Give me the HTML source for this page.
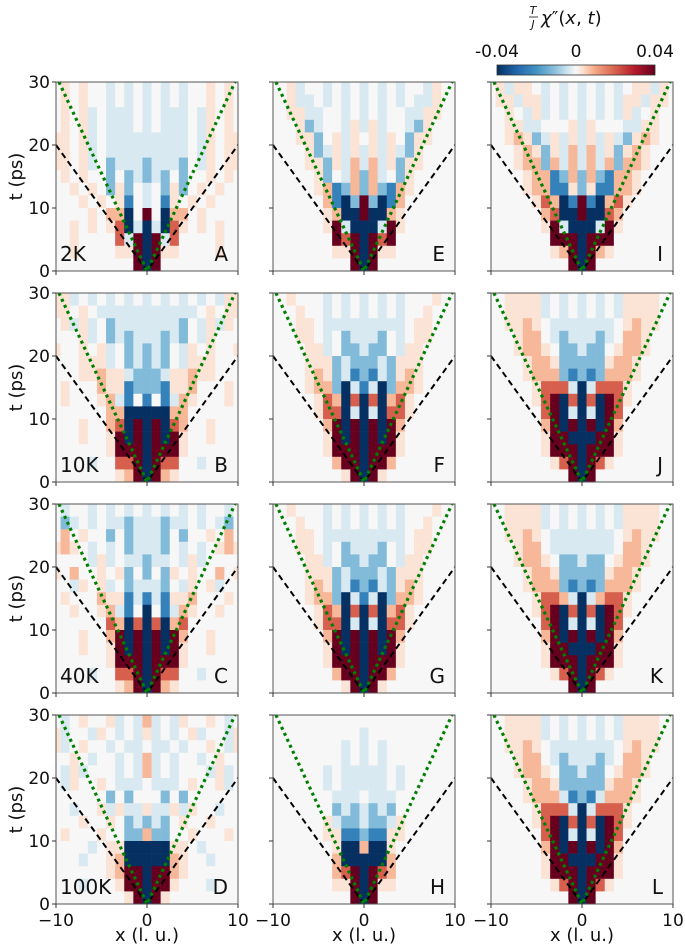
<!DOCTYPE html>
<html><head><meta charset="utf-8"><style>
html,body{margin:0;padding:0;background:#fff;}
svg{display:block;font-family:"DejaVu Sans","Liberation Sans",sans-serif;}
</style></head><body>
<svg id="fig" width="685" height="951" viewBox="0 0 685 951" xmlns="http://www.w3.org/2000/svg"></svg>
<script>
// Heatmap codes: rows top (t=28-30) to bottom (t=0-2), columns x=0..10 (mirrored). 0=-0.04 .. 4=0 .. 8=+0.04
const panelA=["34343445454","34343445454","34333435454","34333435454","33333435455","33333435455","23332435455","23242445454","34252454544","34154545444","84066454444","03075454544","08374444544","08554444544","08444444444"];
const panelE=["34343443544","34343433544","34344335544","35344325444","45354255444","35353254444","36352554444","26342544444","26216544444","82016444444","80065444444","00385444444","08784444444","08554444444","08444444444"];
const panelI=["34343455354","34343553554","34343534544","35444335544","35353256544","36352565444","36362665444","26216654444","25116654444","81067544444","80076444444","00385444444","08884444444","08654444444","08444444444"];
const panelB=["34343434355","33333345455","33332435354","33232435444","23243545445","23243555444","22355655444","22155644454","14136544454","00066444444","08076445444","08085445444","08885444444","08774434444","08654444444"];
const panelF=["34343444544","34343445444","33333455444","33243455444","32243554444","22325554444","21325654444","13026654444","07067544444","03077544444","08086444444","08085444444","08885444444","08864444444","08544444444"];
const panelJ=["34343555544","34343555544","33334565544","33234665444","32245665444","22256654444","21266654444","03777544444","07087544444","03087444444","08086444444","00885444444","08885444444","08754444444","08444444444"];
const panelC=["34343434434","33233434324","33242445464","33243434565","23343534444","24254544645","33243545344","13155644454","04136544544","07067444444","08086445444","08085445444","08885444444","08774434444","08654444444"];
const panelG=["34343444544","34343445444","33333455444","33243455444","32243554444","22325554444","21325654444","13026654444","07067544444","03077544444","08086444444","08085444444","08885444444","08864444444","08544444444"];
const panelK=["34343555544","34343555544","33334565544","33334665444","32245665444","22256654444","21266654444","03677544444","07087544444","03087444444","08086444444","00885444444","08885444444","08754444444","08444444444"];
const panelD=["63435445434","53434534435","43343445435","63434434544","63434443534","43334544534","44242444444","53353544344","23245445444","62244544454","00055434444","00065443444","08865444444","08854443444","08544444444"];
const panelH=["44444444444","34444444444","34344444444","34344444444","33343444444","33343444444","43334444444","32324444444","32235444444","21155444444","60054444444","00064444444","08764444444","08554444444","08444444444"];
const panelL=["34343555544","34343555544","33334565544","33234665444","32245665444","22256654444","21366654444","03777544444","07087544444","03087444444","08086444444","00885444444","08885444444","08754444444","08444444444"];
const panelLetters=["A","E","I","B","F","J","C","G","K","D","H","L"];
const tempLabels=["2K","10K","40K","100K"];
const yTicks=[0,10,20,30];
const xTicks=[-10,0,10];
const cbTicks=[-0.04,0,0.04];
const dashedSlope=2;   // t = 2|x|
const dottedSlope=3.1; // t = 3.1|x|
const panels=[[panelA,panelE,panelI],[panelB,panelF,panelJ],[panelC,panelG,panelK],[panelD,panelH,panelL]];

const NS="http://www.w3.org/2000/svg";
const svg=document.getElementById('fig');
const colX=[56,273,491], rowY=[82,293,504,715], PW=182, PH=189;
const codeVal=[-1,-0.6,-0.3,-0.08,0,0.07,0.2,0.5,1];
const stops=[[-1,[5,48,97]],[-0.75,[33,102,172]],[-0.5,[67,147,195]],[-0.25,[146,197,222]],[-0.1,[209,229,240]],[0,[247,247,247]],[0.1,[253,219,199]],[0.25,[244,165,130]],[0.5,[214,96,77]],[0.75,[178,24,43]],[1,[103,0,31]]];
function cmap(v){v=Math.max(-1,Math.min(1,v));for(let i=0;i<stops.length-1;i++){const a=stops[i],b=stops[i+1];if(v<=b[0]){const f=(v-a[0])/(b[0]-a[0]);const c=a[1].map((x,k)=>Math.round(x+(b[1][k]-x)*f));return `rgb(${c[0]},${c[1]},${c[2]})`;}}return 'rgb(103,0,31)';}
function el(tag,attrs,parent){const e=document.createElementNS(NS,tag);for(const k in attrs)e.setAttribute(k,attrs[k]);(parent||svg).appendChild(e);return e;}

const defs=el('defs',{});
panels.forEach((row,r)=>row.forEach((data,c)=>{
  const x0=colX[c], y0=rowY[r];
  const sx=x=>x0+(x+10)/20*PW, sy=t=>y0+PH-(t/30)*PH;
  const cp=el('clipPath',{id:'cp'+r+c},defs);
  el('rect',{x:x0,y:y0,width:PW,height:PH},cp);
  const g=el('g',{'clip-path':`url(#cp${r}${c})`});
  
  
  const nRows=data.length, dt=30/nRows;
  data.forEach((s,ri)=>{
    const tTop=30-ri*dt;
    for(let xi=-10;xi<=10;xi++){
      const code=+s[Math.abs(xi)];
      const rc=el('rect',{x:sx(xi-0.5),y:sy(tTop),width:sx(xi+0.5)-sx(xi-0.5)+0.3,height:sy(tTop-dt)-sy(tTop)+0.3,fill:cmap(codeVal[code])},g);
      
      
    }
  });
  const dash=el('polyline',{points:`${sx(-10)},${sy(10*dashedSlope)} ${sx(0)},${sy(0)} ${sx(10)},${sy(10*dashedSlope)}`,fill:'none',stroke:'#000','stroke-width':2,'stroke-dasharray':'6 4'},g);
  
  
  const xe=30/dottedSlope;
  const dot=el('polyline',{points:`${sx(-xe)},${sy(30)} ${sx(0)},${sy(0)} ${sx(xe)},${sy(30)}`,fill:'none',stroke:'#008000','stroke-width':3.2,'stroke-dasharray':'3 3.6'},g);
  
  
  const fr=el('rect',{x:x0,y:y0,width:PW,height:PH,fill:'none',stroke:'#555','stroke-width':1});
  
  
  yTicks.forEach(t=>{el('line',{x1:x0-4,x2:x0,y1:sy(t),y2:sy(t),stroke:'#333'});
    if(c===0){const tl=el('text',{x:x0-6,y:sy(t)+6,'text-anchor':'end','font-size':17,fill:'#111'});tl.textContent=t;
      
      }});
  xTicks.forEach(x=>{el('line',{x1:sx(x),x2:sx(x),y1:y0+PH,y2:y0+PH+4,stroke:'#333'});
    if(r===3){const tl=el('text',{x:sx(x),y:y0+PH+22,'text-anchor':'middle','font-size':17,fill:'#111'});tl.textContent=(x<0?'\u2212'+(-x):x);
      
      }});
  const lt=el('text',{x:x0+PW-10,y:y0+PH-10,'text-anchor':'end','font-size':20,fill:'#111'});lt.textContent=panelLetters[r*3+c];
  
  
  if(c===0){const tt=el('text',{x:x0+4,y:y0+PH-10,'font-size':20,fill:'#111'});tt.textContent=tempLabels[r];
    
    
    const yl=el('text',{x:0,y:0,transform:`translate(22,${y0+PH/2}) rotate(-90)`,'text-anchor':'middle','font-size':18,fill:'#111'});yl.textContent='t (ps)';
    
    }
  if(r===3){const xl=el('text',{x:x0+PW/2,y:941,'text-anchor':'middle','font-size':18,fill:'#111'});xl.textContent='x (l. u.)';
    
    }
}));

// colorbar
const cbx0=497,cbx1=655,cby=65,cbh=10;
const grad=el('linearGradient',{id:'cbg',x1:0,x2:1,y1:0,y2:0},defs);
stops.forEach(s=>el('stop',{offset:(s[0]+1)/2,'stop-color':`rgb(${s[1].join(',')})`},grad));
const cb=el('rect',{x:cbx0,y:cby,width:cbx1-cbx0,height:cbh,fill:'url(#cbg)',stroke:'#333','stroke-width':0.8});


cbTicks.forEach(v=>{const x=cbx0+(v+0.04)/0.08*(cbx1-cbx0);
  const t=el('text',{x:x,y:57,'text-anchor':'middle','font-size':17,fill:'#111'});t.textContent=(v===0?'0':v.toFixed(2));
  
  });
const ct=el('g',{});


const tT=el('text',{x:533,y:14,'font-size':11,'font-style':'italic',fill:'#111','text-anchor':'middle'},ct);tT.textContent='T';
el('line',{x1:529,x2:538,y1:17,y2:17,stroke:'#111','stroke-width':0.8},ct);
const tJ=el('text',{x:533,y:28,'font-size':11,'font-style':'italic',fill:'#111','text-anchor':'middle'},ct);tJ.textContent='J';
const tc=el('text',{x:541,y:24,'font-size':18,fill:'#111'},ct);tc.innerHTML='<tspan font-style="italic">χ</tspan>″(<tspan font-style="italic">x</tspan>, <tspan font-style="italic">t</tspan>)';
</script>
</body></html>
